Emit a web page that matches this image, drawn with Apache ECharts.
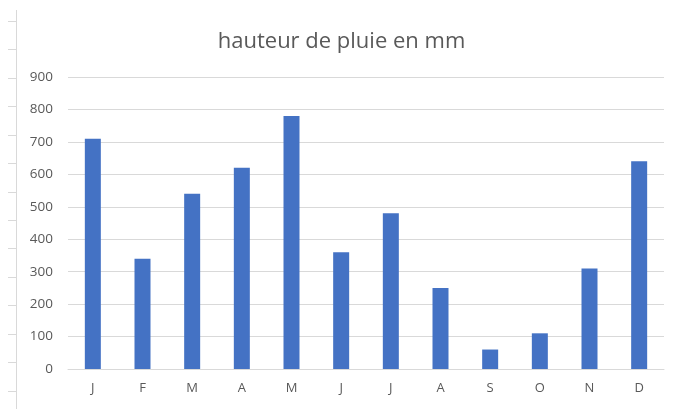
<!DOCTYPE html>
<html>
<head>
<meta charset="utf-8">
<style>
  html, body { margin: 0; padding: 0; background: #fff; }
  #chart { width: 683px; height: 409px; }
</style>
<script src="https://cdn.jsdelivr.net/npm/echarts@6/dist/echarts.min.js"></script>
</head>
<body>
<div id="chart"></div>
<script>
// données de pluie par mois
var mois = ['J', 'F', 'M', 'A', 'M', 'J', 'J', 'A', 'S', 'O', 'N', 'D'];
var pluie = [710, 340, 540, 620, 780, 360, 480, 250, 60, 110, 310, 640];
var titre = 'hauteur de pluie en mm';

var chart = echarts.init(document.getElementById('chart'));
var option = {
  animation: false,
  title: {
    text: titre,
    left: 'center',
    top: 26,
    textStyle: { fontFamily: 'Open Sans', fontSize: 22, fontWeight: 'normal', color: '#595959' }
  },
  graphic: [{
    type: 'line',
    shape: { x1: 16.5, y1: 10, x2: 16.5, y2: 409 },
    style: { stroke: '#d9d9d9', lineWidth: 1 }
  }],
  grid: [
    { left: 68, right: 19, top: 77, bottom: 40 },
    { left: 16, width: 1, top: 21, height: 370 }
  ],
  xAxis: [
    {
      type: 'category',
      data: mois,
      gridIndex: 0,
      axisLine: { lineStyle: { color: '#d9d9d9' } },
      axisTick: { show: false },
      axisLabel: { color: '#595959', fontFamily: 'Open Sans', fontSize: 13, margin: 13 }
    },
    { type: 'value', gridIndex: 1, show: false }
  ],
  yAxis: [
    {
      type: 'value',
      gridIndex: 0,
      min: 0,
      max: 900,
      interval: 100,
      axisLine: { show: false },
      axisTick: { show: false },
      splitLine: { lineStyle: { color: '#d9d9d9' } },
      axisLabel: { color: '#595959', fontFamily: 'Open Sans', fontSize: 13.5, margin: 15 }
    },
    {
      type: 'value',
      gridIndex: 1,
      min: 0,
      max: 13,
      interval: 1,
      inverse: true,
      axisLine: { show: true, lineStyle: { color: '#d9d9d9' } },
      axisTick: { show: true, length: 8, lineStyle: { color: '#d9d9d9' } },
      axisLabel: { show: false },
      splitLine: { show: false }
    }
  ],
  series: [{
    type: 'bar',
    data: pluie,
    xAxisIndex: 0,
    yAxisIndex: 0,
    barWidth: 16,
    itemStyle: { color: '#4472C4' }
  }]
};
chart.setOption(option);
</script>
</body>
</html>
